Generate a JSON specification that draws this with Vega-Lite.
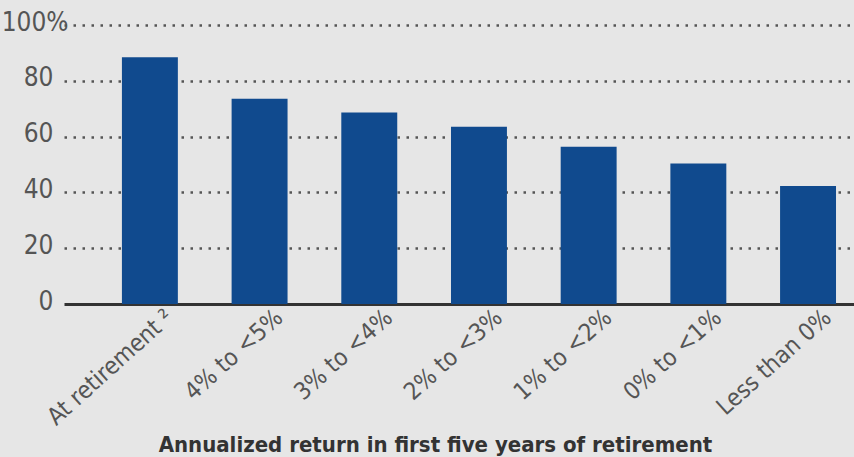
{
  "$schema": "https://vega.github.io/schema/vega-lite/v6.json",
  "width": 790,
  "height": 279,
  "autosize": {"type": "none"},
  "padding": {"left": 64, "top": 25, "right": 0, "bottom": 153},
  "background": "#e6e6e6",
  "config": {
    "view": {"stroke": null},
    "font": "DejaVu Sans Condensed"
  },
  "data": {
    "values": [
      {"category": "At retirement ²", "share": 88.4},
      {"category": "4% to <5%", "share": 73.6},
      {"category": "3% to <4%", "share": 68.6},
      {"category": "2% to <3%", "share": 63.5},
      {"category": "1% to <2%", "share": 56.4},
      {"category": "0% to <1%", "share": 50.4},
      {"category": "Less than 0%", "share": 42.3}
    ]
  },
  "mark": {"type": "bar", "color": "#104a8e"},
  "encoding": {
    "x": {
      "field": "category",
      "type": "nominal",
      "sort": null,
      "scale": {"paddingInner": 0.49, "paddingOuter": 0.346, "align": 0.763},
      "axis": {
        "title": "Annualized return in first five years of retirement",
        "titleFont": "DejaVu Sans Condensed",
        "titleFontSize": 22,
        "titleFontWeight": "bold",
        "titleColor": "#333333",
        "titleX": 371,
        "titleY": 147,
        "titleAlign": "center",
        "titleBaseline": "alphabetic",
        "labelAngle": -42,
        "labelAlign": "right",
        "labelBaseline": "middle",
        "labelPadding": 10,
        "labelOffset": 20,
        "labelFontSize": 24,
        "labelColor": "#555555",
        "labelFont": "DejaVu Sans Condensed",
        "ticks": false,
        "domainColor": "#333333",
        "domainWidth": 3,
        "grid": false
      }
    },
    "y": {
      "field": "share",
      "type": "quantitative",
      "scale": {"domain": [0, 100], "nice": false},
      "axis": {
        "title": null,
        "values": [0, 20, 40, 60, 80, 100],
        "labelExpr": "datum.value == 100 ? '100%' : datum.label",
        "labelFontSize": 26,
        "labelColor": "#555555",
        "labelFont": "DejaVu Sans Condensed",
        "labelPadding": {"condition": {"test": "datum.value == 100", "value": -4}, "value": 11},
        "labelOffset": -3,
        "ticks": false,
        "domain": false,
        "grid": true,
        "gridColor": "#555555",
        "gridDash": [2.5, 6.5],
        "gridWidth": 2.5,
        "gridOpacity": {"condition": {"test": "datum.value == 0", "value": 0}, "value": 1}
      }
    }
  }
}
